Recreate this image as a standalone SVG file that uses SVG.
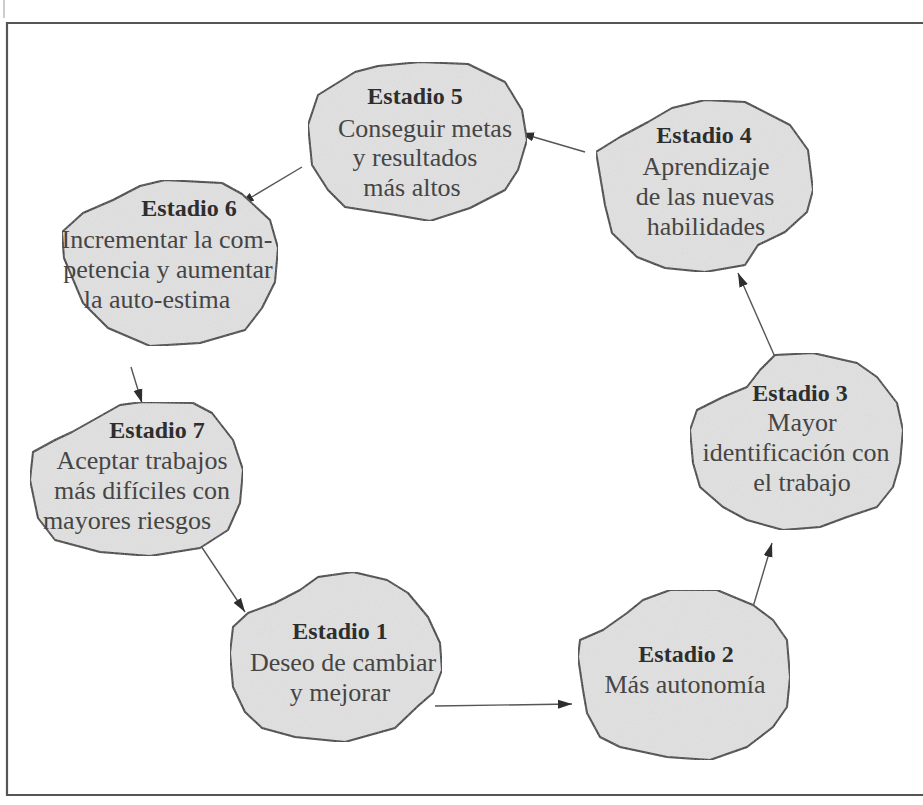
<svg xmlns="http://www.w3.org/2000/svg" width="923" height="805" viewBox="0 0 923 805">
  <style>
    .frame { fill: none; stroke: #555; stroke-width: 2.2; }
    .blob { fill: #e2e2e2; stroke: #383838; stroke-width: 2; stroke-linejoin: round; }
    .head { font-family: "Liberation Serif", "DejaVu Serif", serif; font-weight: bold; font-size: 24px; fill: #2e2e2e; text-anchor: middle; }
    .body { font-family: "Liberation Serif", "DejaVu Serif", serif; font-size: 26px; fill: #454545; text-anchor: middle; }
    .link { fill: none; stroke: #555; stroke-width: 1.4; marker-end: url(#ah); }
  </style>
  <defs>
    <marker id="ah" viewBox="0 0 14 10" refX="14" refY="5" markerWidth="14" markerHeight="10" markerUnits="userSpaceOnUse" orient="auto">
      <path d="M0,0.5 L14,5 L0,9.5 Z" fill="#2e2e2e"/>
    </marker>
    <filter id="grain" x="0" y="0" width="100%" height="100%">
      <feTurbulence type="fractalNoise" baseFrequency="0.9" numOctaves="2" seed="4" result="n"/>
      <feColorMatrix in="n" type="matrix" values="0 0 0 0 0.55  0 0 0 0 0.55  0 0 0 0 0.55  0 0 0 0.35 -0.05" result="dots"/>
      <feComposite in="dots" in2="SourceGraphic" operator="in" result="speck"/>
      <feMerge><feMergeNode in="SourceGraphic"/><feMergeNode in="speck"/></feMerge>
    </filter>
  </defs>

  <rect width="923" height="805" fill="#ffffff"/>

  <!-- page frame (open on the right) -->
  <path class="frame" d="M923,23 L7,23 L7,795 L923,795"/>
  <line x1="4" y1="0" x2="4" y2="18" stroke="#999" stroke-width="1"/>

  <!-- connectors -->
  <g id="connectors">
    <line class="link" x1="435" y1="706" x2="572" y2="704"/>
    <line class="link" x1="753" y1="607" x2="772" y2="543"/>
    <line class="link" x1="775" y1="357" x2="738" y2="273"/>
    <line class="link" x1="585" y1="152" x2="520" y2="133"/>
    <line class="link" x1="302" y1="167" x2="240" y2="204"/>
    <line class="link" x1="131" y1="367" x2="142" y2="403"/>
    <line class="link" x1="195" y1="537" x2="245" y2="612"/>
  </g>

  <g id="stadio1">
    <path class="blob" filter="url(#grain)" d="M300,590 L318,577 L353,572 L387,580 L408,593 L428,617 L440,643 L442,670 L433,693 L418,706 L395,728 L345,742 L295,737 L262,728 L245,712 L233,687 L230,653 L233,627 L248,613 L275,603 Z"/>
    <text class="head" x="340" y="639">Estadio 1</text>
    <text class="body" x="343" y="671">Deseo de cambiar</text>
    <text class="body" x="340" y="701">y mejorar</text>
  </g>

  <g id="stadio2">
    <path class="blob" filter="url(#grain)" d="M627,613 L643,600 L670,590 L717,590 L753,605 L773,620 L787,640 L790,677 L787,707 L773,727 L747,747 L710,760 L667,757 L620,747 L600,737 L587,713 L583,690 L578,657 L580,640 L603,630 Z"/>
    <text class="head" x="686" y="662">Estadio 2</text>
    <text class="body" x="685" y="693">Más autonomía</text>
  </g>

  <g id="stadio3">
    <path class="blob" filter="url(#grain)" d="M760,370 L775,355 L813,353 L857,363 L877,377 L897,403 L903,430 L900,463 L893,487 L877,507 L847,517 L820,527 L783,530 L747,520 L723,507 L700,487 L693,463 L690,430 L697,410 L723,397 L747,387 Z"/>
    <text class="head" x="800" y="401">Estadio 3</text>
    <text class="body" x="802" y="431">Mayor</text>
    <text class="body" x="796" y="461">identificación con</text>
    <text class="body" x="802" y="491">el trabajo</text>
  </g>

  <g id="stadio4">
    <path class="blob" filter="url(#grain)" d="M672,108 L705,100 L745,102 L790,125 L808,150 L813,190 L807,212 L785,232 L758,245 L745,265 L705,272 L665,268 L637,257 L612,233 L605,205 L596,152 L620,137 L648,122 Z"/>
    <text class="head" x="704" y="143">Estadio 4</text>
    <text class="body" x="706" y="175">Aprendizaje</text>
    <text class="body" x="705" y="205">de las nuevas</text>
    <text class="body" x="706" y="235">habilidades</text>
  </g>

  <g id="stadio5">
    <path class="blob" filter="url(#grain)" d="M378,66 L420,62 L468,64 L505,82 L522,110 L527,140 L518,170 L505,190 L470,208 L430,221 L390,214 L345,207 L328,190 L312,165 L308,125 L318,95 L355,72 Z"/>
    <text class="head" x="415" y="104">Estadio 5</text>
    <text class="body" x="425" y="137">Conseguir metas</text>
    <text class="body" x="415" y="166">y resultados</text>
    <text class="body" x="412" y="196">más altos</text>
  </g>

  <g id="stadio6">
    <path class="blob" filter="url(#grain)" d="M113,200 L140,186 L165,180 L222,183 L242,194 L270,220 L278,248 L275,282 L262,308 L245,330 L200,343 L150,346 L108,328 L83,303 L64,258 L62,232 L83,213 Z"/>
    <text class="head" x="189" y="216">Estadio 6</text>
    <text class="body" x="167" y="248">Incrementar la com-</text>
    <text class="body" x="168" y="278">petencia y aumentar</text>
    <text class="body" x="157" y="308">la auto-estima</text>
  </g>

  <g id="stadio7">
    <path class="blob" filter="url(#grain)" d="M97,418 L120,405 L142,402 L193,403 L212,413 L233,440 L243,470 L240,503 L228,530 L200,548 L150,556 L100,552 L55,540 L38,518 L30,480 L33,452 L55,440 L72,432 Z"/>
    <text class="head" x="157" y="438">Estadio 7</text>
    <text class="body" x="142" y="469">Aceptar trabajos</text>
    <text class="body" x="142" y="499">más difíciles con</text>
    <text class="body" x="127" y="529">mayores riesgos</text>
  </g>
</svg>
